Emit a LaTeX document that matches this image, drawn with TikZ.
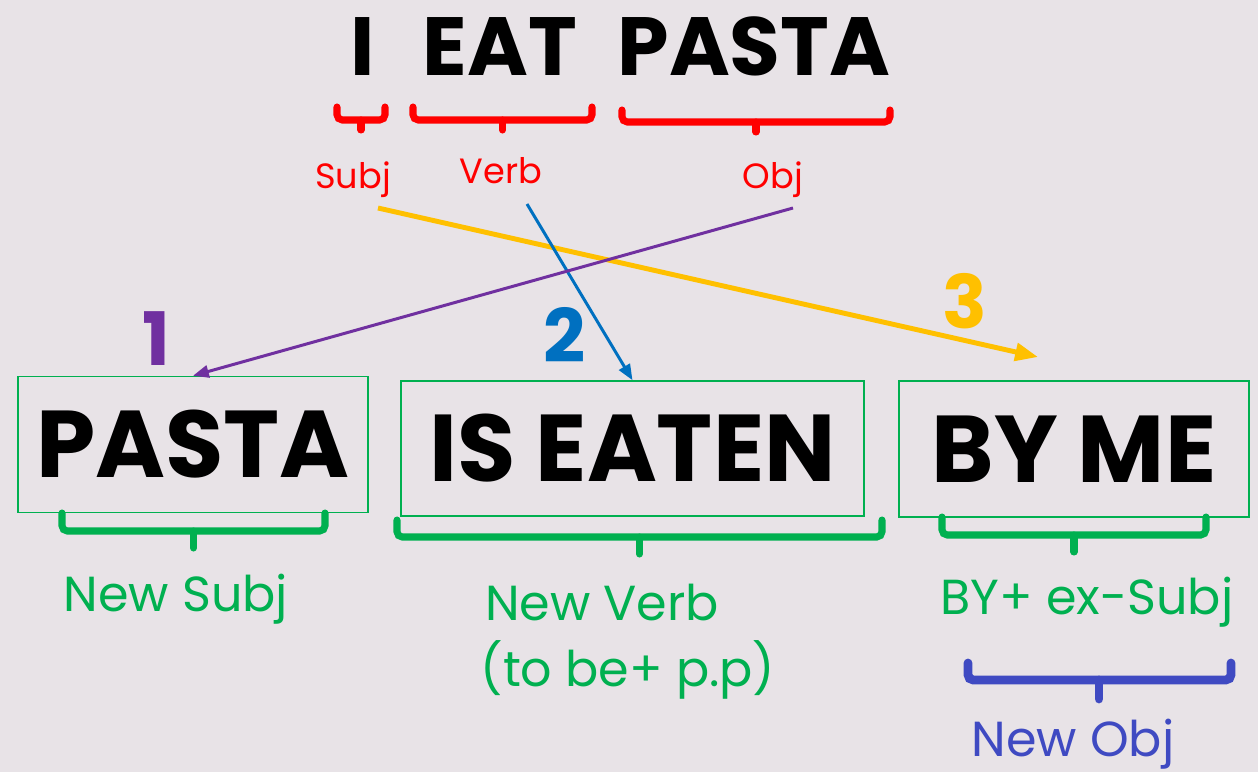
\documentclass[tikz,border=0pt]{standalone}
\usepackage{fontspec}
\setmainfont{Poppins}
\usetikzlibrary{arrows.meta}
\definecolor{bgc}{HTML}{E8E3E7}
\definecolor{myred}{HTML}{FF0000}
\definecolor{mygreen}{HTML}{00B050}
\definecolor{myblue}{HTML}{0070C0}
\definecolor{mypurple}{HTML}{7030A0}
\definecolor{myyellow}{HTML}{FFC000}
\definecolor{objblue}{HTML}{3F4AC2}
\tikzset{
  title/.style={font=\fontsize{47}{48}\selectfont\bfseries, inner sep=0, anchor=base},
  word/.style={font=\fontsize{54}{55}\selectfont\bfseries, draw=mygreen, line width=0.9pt, inner sep=0},
  redlab/.style={font=\fontsize{20}{22}\selectfont, text=myred, inner sep=0, anchor=base},
  greenlab/.style={font=\fontsize{28}{30}\selectfont, text=mygreen, inner sep=0, anchor=base},
  num/.style={font=\fontsize{42}{44}\selectfont\bfseries, inner sep=0, anchor=base},
  brace/.style={line width=4pt, rounded corners=3pt, line cap=round}
}
\begin{document}
\begin{tikzpicture}[x=0.02cm, y=-0.02cm]
	\fill[bgc] (0,0) rectangle (1258,772);
	\useasboundingbox (0,0) rectangle (1258,772);
	% sentence
	\node[title] (wi) at (363,75) {I};
	\node[title] (weat) at (500,75) {EAT};
	\node[title] (wpasta) at (754,75) {PASTA};
	\foreach \xa/\xb/\ya/\yb in {337/385/107/120, 413/592/107/120, 622/890/110/122} {
		\draw[brace, myred] (\xa,\ya) |- (\xb,\yb) -- (\xb,\ya);
		\draw[brace, myred] ({(\xa+\xb)/2},\yb) -- ++(0,10);
	}
	\node[redlab] (subj) at (353,188) {Subj};
	\node[redlab] (verb) at (501,183) {Verb};
	\node[redlab] (obj) at (773,188) {Obj};
	% passive
	\node[word, minimum width=7cm, minimum height=2.72cm] (pasta) at (193,444.5) {PASTA};
	\node[word, minimum width=9.26cm, minimum height=2.7cm] (eaten) at (632.5,448.5) {IS EATEN};
	\node[word, minimum width=7cm, minimum height=2.72cm] (byme) at (1074,449) {BY ME};
	\foreach \xa/\xb/\ya/\yb in {62/325/513/531, 397/882/520/537, 942/1206/517/535} {
		\draw[brace, mygreen] (\xa,\ya) |- (\xb,\yb) -- (\xb,\ya);
		\draw[brace, mygreen] ({(\xa+\xb)/2},\yb) -- ++(0,17);
	}
	\draw[brace, objblue, line width=5pt] (968,663) |- (1231,680) -- (1231,663);
	\draw[brace, objblue, line width=5pt] (1099,680) -- ++(0,19);
	\node[greenlab] (nsubj) at (176,611) {New Subj};
	\node[greenlab] (nverb) at (602,620) {New Verb};
	\node[greenlab] (tobe) at (628,686) {(to be+ p.p)};
	\node[greenlab] (exsubj) at (1087,614) {BY+ ex-Subj};
	\node[greenlab, text=objblue] (nobj) at (1073,756) {New Obj};
	% arrows
	\coordinate (subjfoot) at (378,208);
	\coordinate (verbfoot) at (527,204);
	\coordinate (objfoot) at (793,208);
	\coordinate (bytop) at (1038,357);
	\draw[myyellow, line width=2.8pt, -{Triangle[length=13pt, width=10pt]}] (subjfoot) -- (bytop);
	\draw[myblue, line width=1.7pt, -{Triangle[length=9pt, width=7pt]}] (verbfoot) -- (eaten.north);
	\draw[mypurple, line width=1.7pt, -{Triangle[length=9pt, width=7pt]}] (objfoot) -- (pasta.north);
	\node[num, text=mypurple] (n1) at (156,365) {1};
	\node[num, text=myblue] (n2) at (565,362) {2};
	\node[num, text=myyellow] (n3) at (965,328) {3};
\end{tikzpicture}
\end{document}
